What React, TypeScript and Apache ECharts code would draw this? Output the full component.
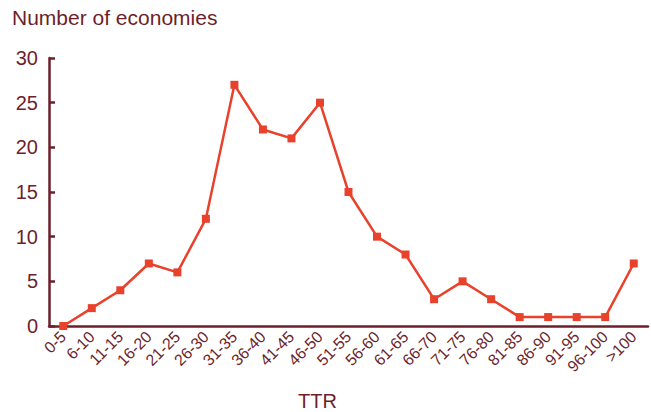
import React, { useEffect, useRef } from "react";
import * as echarts from "echarts";

const categories = [
  "0-5", "6-10", "11-15", "16-20", "21-25", "26-30", "31-35", "36-40", "41-45", "46-50",
  "51-55", "56-60", "61-65", "66-70", "71-75", "76-80", "81-85", "86-90", "91-95", "96-100", ">100",
];
const economies = [0, 2, 4, 7, 6, 12, 27, 22, 21, 25, 15, 10, 8, 3, 5, 3, 1, 1, 1, 1, 7];
const yTitle = "Number of economies";
const xTitle = "TTR";

const dark = "#6d1f2b";
const red = "#e8422c";
const font = "'Liberation Sans', Arial, Helvetica, sans-serif";

export default function App() {
  const ref = useRef<HTMLDivElement>(null);
  useEffect(() => {
    if (!ref.current) return;
    const chart = echarts.init(ref.current, undefined, { renderer: "svg" });
    chart.setOption({
      animation: false,
      textStyle: { fontFamily: font },
      grid: { left: 49, right: 3, top: 58, bottom: 86, containLabel: false },
      graphic: [
        {
          type: "text",
          left: 12,
          top: 7,
          style: { text: yTitle, fill: dark, font: `21px ${font}` },
        },
        {
          type: "text",
          left: 298,
          top: 391,
          style: { text: xTitle, fill: dark, font: `20px ${font}` },
        },
      ],
      xAxis: {
        type: "category",
        data: categories,
        boundaryGap: true,
        axisLine: { lineStyle: { color: dark, width: 2.5 } },
        axisTick: { inside: true, length: 7, lineStyle: { color: dark, width: 2.5 }, alignWithLabel: false },
        axisLabel: { rotate: 45, color: dark, fontSize: 16, margin: 8, interval: 0, fontFamily: font },
        splitLine: { show: false },
      },
      yAxis: {
        type: "value",
        min: 0,
        max: 30,
        interval: 5,
        axisLine: { show: true, lineStyle: { color: dark, width: 2.5 } },
        axisTick: { show: true, inside: true, length: 6, lineStyle: { color: dark, width: 2.5 } },
        axisLabel: { color: dark, fontSize: 20, margin: 11, fontFamily: font },
        splitLine: { show: false },
      },
      series: [
        {
          type: "line",
          data: economies,
          symbol: "rect",
          symbolSize: 8,
          itemStyle: { color: red },
          lineStyle: { color: red, width: 2.5 },
        },
      ],
    });
    return () => chart.dispose();
  }, []);
  return <div ref={ref} style={{ width: 651, height: 412, position: "absolute", left: 0, top: 0 }} />;
}
